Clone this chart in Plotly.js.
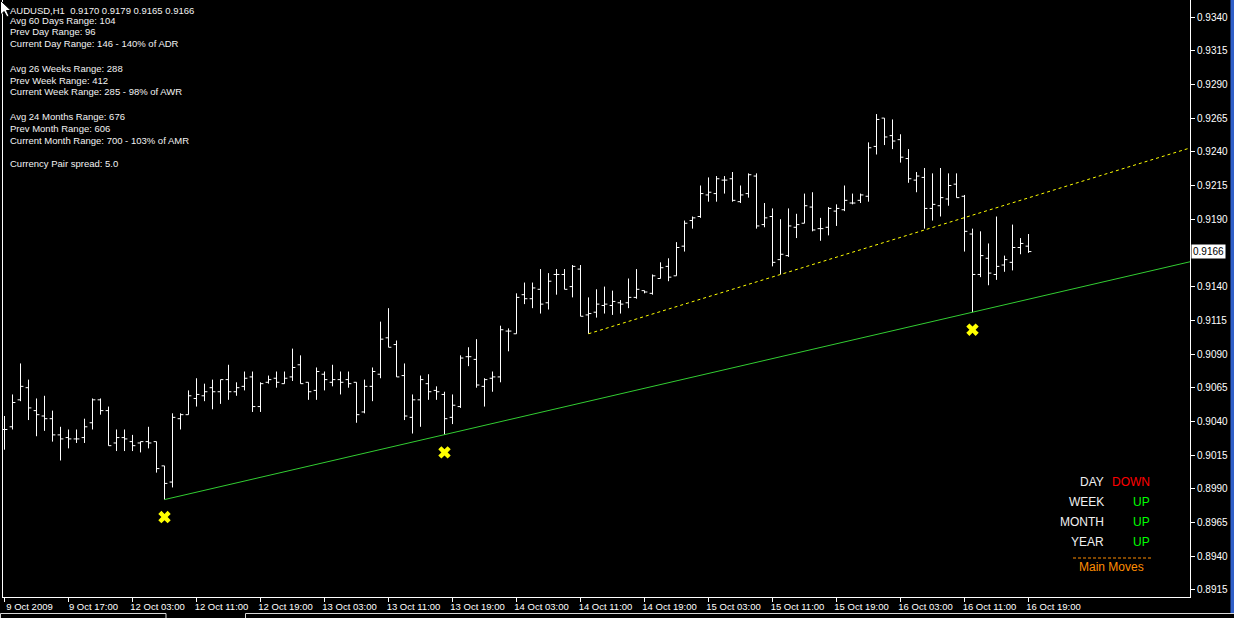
<!DOCTYPE html>
<html><head><meta charset="utf-8">
<script src="https://cdn.plot.ly/plotly-3.0.1.min.js"></script>
<style>html,body{margin:0;padding:0;background:#000;overflow:hidden}#chart{width:1234px;height:618px}</style>
</head><body><div id="chart"></div>
<script>
// ---------- DATA (AUDUSD H1) ----------
const openP = [0.9034,0.9036,0.9056,0.9065,0.9048,0.9044,0.9042,0.9030,0.9028,0.9027,
0.9028,0.9039,0.9056,0.9048,0.9024,0.9028,0.9025,0.9024,0.9025,0.9025,
0.9007,0.8995,0.9042,0.9045,0.9057,0.9059,0.9065,0.9062,0.9071,0.9062,
0.9066,0.9073,0.9051,0.9069,0.9072,0.9068,0.9073,0.9082,0.9069,0.9063,
0.9075,0.9069,0.9071,0.9071,0.9069,0.9047,0.9066,0.9075,0.9102,0.9097,
0.9074,0.9043,0.9056,0.9068,0.9063,0.9060,0.9043,0.9051,0.9088,0.9086,
0.9066,0.9072,0.9073,0.9107,0.9105,0.9134,0.9131,0.9138,0.9128,0.9149,
0.9149,0.9140,0.9153,0.9119,0.9121,0.9126,0.9126,0.9128,0.9128,0.9132,
0.9137,0.9135,0.9146,0.9155,0.9148,0.9170,0.9189,0.9192,0.9208,0.9209,
0.9219,0.9220,0.9203,0.9209,0.9222,0.9186,0.9192,0.9160,0.9163,0.9184,
0.9187,0.9199,0.9183,0.9184,0.9196,0.9197,0.9202,0.9204,0.9207,0.9244,
0.9265,0.9252,0.9249,0.9235,0.9219,0.9221,0.9198,0.9200,0.9205,0.9216,
0.9207,0.9179,0.9149,0.9161,0.9149,0.9156,0.9158,0.9169,0.9170];
const highP = [0.9044,0.9060,0.9083,0.9071,0.9057,0.9059,0.9048,0.9036,0.9034,0.9034,
0.9042,0.9057,0.9057,0.9051,0.9034,0.9034,0.9030,0.9025,0.9036,0.9025,
0.9007,0.9046,0.9046,0.9063,0.9072,0.9068,0.9071,0.9071,0.9082,0.9069,
0.9077,0.9077,0.9069,0.9074,0.9077,0.9077,0.9094,0.9089,0.9069,0.9080,
0.9077,0.9082,0.9077,0.9077,0.9069,0.9071,0.9080,0.9114,0.9124,0.9100,
0.9083,0.9060,0.9074,0.9075,0.9066,0.9062,0.9060,0.9089,0.9095,0.9101,
0.9072,0.9077,0.9111,0.9109,0.9135,0.9143,0.9143,0.9153,0.9150,0.9153,
0.9153,0.9156,0.9156,0.9132,0.9138,0.9140,0.9137,0.9130,0.9146,0.9153,
0.9137,0.9149,0.9158,0.9161,0.9173,0.9189,0.9192,0.9215,0.9221,0.9222,
0.9222,0.9225,0.9215,0.9224,0.9224,0.9202,0.9198,0.9190,0.9198,0.9194,
0.9209,0.9210,0.9191,0.9199,0.9201,0.9215,0.9209,0.9209,0.9247,0.9268,
0.9265,0.9264,0.9253,0.9242,0.9225,0.9228,0.9224,0.9228,0.9224,0.9224,
0.9208,0.9183,0.9181,0.9172,0.9192,0.9163,0.9186,0.9176,0.9179];
const lowP = [0.9019,0.9034,0.9055,0.9041,0.9029,0.9033,0.9025,0.9011,0.9020,0.9024,
0.9024,0.9034,0.9045,0.9022,0.9018,0.9018,0.9018,0.9017,0.9020,0.9002,
0.8982,0.8991,0.9034,0.9045,0.9051,0.9055,0.9049,0.9053,0.9056,0.9059,
0.9063,0.9047,0.9047,0.9068,0.9065,0.9068,0.9070,0.9068,0.9056,0.9056,
0.9063,0.9066,0.9060,0.9065,0.9039,0.9046,0.9055,0.9072,0.9095,0.9073,
0.9041,0.9031,0.9036,0.9056,0.9056,0.9030,0.9038,0.9050,0.9081,0.9065,
0.9051,0.9062,0.9069,0.9092,0.9105,0.9127,0.9124,0.9120,0.9123,0.9134,
0.9138,0.9132,0.9118,0.9105,0.9117,0.9120,0.9119,0.9120,0.9124,0.9131,
0.9135,0.9134,0.9146,0.9144,0.9148,0.9166,0.9183,0.9191,0.9203,0.9203,
0.9209,0.9203,0.9202,0.9206,0.9183,0.9184,0.9155,0.9149,0.9162,0.9176,
0.9187,0.9181,0.9174,0.9178,0.9185,0.9196,0.9201,0.9202,0.9203,0.9238,
0.9245,0.9242,0.9232,0.9217,0.9210,0.9183,0.9189,0.9192,0.9200,0.9206,
0.9166,0.9121,0.9147,0.9141,0.9145,0.9151,0.9152,0.9164,0.9165];
const closeP = [0.9034,0.9054,0.9066,0.9050,0.9045,0.9042,0.9030,0.9027,0.9027,0.9027,
0.9036,0.9056,0.9048,0.9022,0.9028,0.9027,0.9022,0.9025,0.9024,0.9005,
0.8994,0.9043,0.9045,0.9059,0.9060,0.9062,0.9062,0.9071,0.9062,0.9065,
0.9072,0.9051,0.9068,0.9071,0.9069,0.9072,0.9080,0.9068,0.9062,0.9077,
0.9071,0.9071,0.9069,0.9068,0.9045,0.9066,0.9077,0.9101,0.9095,0.9073,
0.9044,0.9056,0.9071,0.9062,0.9062,0.9042,0.9052,0.9087,0.9088,0.9067,
0.9071,0.9073,0.9108,0.9107,0.9132,0.9131,0.9139,0.9127,0.9144,0.9149,
0.9138,0.9155,0.9118,0.9120,0.9127,0.9127,0.9129,0.9127,0.9132,0.9138,
0.9136,0.9148,0.9154,0.9147,0.9169,0.9187,0.9191,0.9209,0.9210,0.9220,
0.9219,0.9204,0.9208,0.9223,0.9185,0.9191,0.9158,0.9164,0.9185,0.9186,
0.9200,0.9182,0.9183,0.9198,0.9198,0.9204,0.9202,0.9208,0.9243,0.9264,
0.9251,0.9248,0.9236,0.9220,0.9222,0.9198,0.9201,0.9206,0.9215,0.9206,
0.9181,0.9149,0.9163,0.9150,0.9155,0.9160,0.9169,0.9172,0.9166];

const tickBars = [0,8,16,24,32,40,48,56,64,72,80,88,96,104,112,120,128];
const tickLabels = ['9 Oct 2009','9 Oct 17:00','12 Oct 03:00','12 Oct 11:00','12 Oct 19:00',
'13 Oct 03:00','13 Oct 11:00','13 Oct 19:00','14 Oct 03:00','14 Oct 11:00','14 Oct 19:00',
'15 Oct 03:00','15 Oct 11:00','15 Oct 19:00','16 Oct 03:00','16 Oct 11:00','16 Oct 19:00'];

const priceTickStart = 0.8915, priceTickStep = 0.0025, priceTickCount = 18;

const greenAnchors = [20, 121];   // trend line through these bars' lows
const yellowAnchors = [73, 97];   // dotted trend line through these bars' lows
const crossBars = [20, 55, 121];  // yellow "x" marks

const headerText = 'AUDUSD,H1\u00a0\u00a00.9170 0.9179 0.9165 0.9166';
const infoLines = ['Avg 60 Days Range: 104','Prev Day Range: 96','Current Day Range: 146 - 140% of ADR','',
'Avg 26 Weeks Range: 288','Prev Week Range: 412','Current Week Range: 285 - 98% of AWR','',
'Avg 24 Months Range: 676','Prev Month Range: 606','Current Month Range: 700 - 103% of AMR','',
'Currency Pair spread: 5.0'];
const moveNames = ['DAY','WEEK','MONTH','YEAR'];
const moveDirs = ['DOWN','UP','UP','UP'];
const movesTitle = 'Main Moves';
const lastPrice = 0.9166;

// ---------- LAYOUT GEOMETRY ----------
const W = 1234, H = 618, ML = 3, MR = 44, MT = 0, MB = 21;
const plotW = W - ML - MR, plotH = H - MT - MB;
const barPx = 8;
const xr0 = -0.1875, xr1 = xr0 + plotW / barPx;
const pxPerPrice = 13480;              // vertical scale
const refPrice = 0.9340, refY = 17;    // 0.9340 sits 17px below the top
const yTop = refPrice + refY / pxPerPrice;
const yBot = yTop - plotH / pxPerPrice;

const xs = openP.map((_, i) => i);
const FONT = 'Liberation Sans, Arial, sans-serif';

// price ticks; the one hidden under the current-price box is left out
const priceTicks = [];
for (let k = 0; k < priceTickCount; k++) {
  const v = +(priceTickStart + k * priceTickStep).toFixed(4);
  if (Math.abs(v - lastPrice) > 0.0012) priceTicks.push(v);
}

function ray(a, b) {
  const slope = (lowP[b] - lowP[a]) / (b - a);
  const xe = xr1 + 3;
  return {x: [a, xe], y: [lowP[a], lowP[a] + slope * (xe - a)]};
}
const g = ray(greenAnchors[0], greenAnchors[1]);
const yl = ray(yellowAnchors[0], yellowAnchors[1]);
const crossOffset = 17.5 / pxPerPrice;

const traces = [
  {type: 'ohlc', x: xs, open: openP, high: highP, low: lowP, close: closeP,
   increasing: {line: {color: '#ffffff', width: 1}},
   decreasing: {line: {color: '#ffffff', width: 1}},
   tickwidth: 0.36, hoverinfo: 'skip', showlegend: false},
  {type: 'scatter', mode: 'lines', x: g.x, y: g.y,
   line: {color: '#32cd32', width: 1}, hoverinfo: 'skip', showlegend: false},
  {type: 'scatter', mode: 'lines', x: yl.x, y: yl.y,
   line: {color: '#ffff00', width: 1, dash: '3px,3px'}, hoverinfo: 'skip', showlegend: false},
  {type: 'scatter', mode: 'markers', x: crossBars, y: crossBars.map(i => lowP[i] - crossOffset),
   marker: {symbol: 'x', size: 11, color: '#ffff00', line: {width: 0}},
   hoverinfo: 'skip', showlegend: false}
];

// pixel -> paper helpers (for decorations / text placement)
const PX = x => (x - ML) / plotW;
const PY = y => 1 - (y - MT) / plotH;

const ann = [];
function txt(px, py, text, color, size, anchor) {
  ann.push({xref: 'paper', yref: 'paper', x: PX(px), y: PY(py), text: text, showarrow: false,
    xanchor: anchor || 'left', yanchor: 'middle',
    font: {family: FONT, size: size, color: color}, borderpad: 0});
}
txt(9, 10, headerText, '#f2f2f2', 9.5);
infoLines.forEach((t, k) => { if (t) txt(9, 20 + 12 * k, t, '#f2f2f2', 9.5); });
moveNames.forEach((t, k) => {
  txt(1105, 482 + 20 * k, t, '#f0f0f0', 12, 'right');
  txt(1151, 482 + 20 * k, moveDirs[k], moveDirs[k] === 'UP' ? '#00ff00' : '#ff0000', 12, 'right');
});
txt(1111, 567, movesTitle, '#ff8c00', 12, 'center');
ann.push({xref: 'paper', yref: 'y', x: 1, y: lastPrice, xanchor: 'left', yanchor: 'middle', xshift: 1,
  text: lastPrice.toFixed(4), showarrow: false, bgcolor: '#ffffff', borderpad: 1,
  font: {family: FONT, size: 10, color: '#000000'}});

const shapes = [
  {type: 'line', xref: 'paper', yref: 'paper', x0: PX(1073), x1: PX(1152), y0: PY(558), y1: PY(558),
   line: {color: '#ff8c00', width: 1, dash: '3px,2px'}},
  {type: 'rect', xref: 'paper', yref: 'paper', x0: PX(0.5), x1: PX(166), y0: PY(613.5), y1: PY(622),
   line: {color: '#d8d8d8', width: 1}},
  {type: 'rect', xref: 'paper', yref: 'paper', x0: PX(245.5), x1: PX(1240), y0: PY(613.5), y1: PY(622),
   line: {color: '#d8d8d8', width: 1}},
  {type: 'rect', xref: 'paper', yref: 'paper', x0: PX(1230.5), x1: PX(1236), y0: PY(-2), y1: PY(613),
   line: {width: 0}, fillcolor: '#2f5fc8'},
  {type: 'path', xref: 'paper', yref: 'paper',
   path: 'M' + [[0.5,0.5],[0.5,15],[4,11.5],[7,17],[9,16],[6.5,10.5],[11,10.5]].map(p => PX(p[0]) + ',' + PY(p[1])).join(' L') + ' Z',
   fillcolor: '#ffffff', line: {color: '#000000', width: 1}}
];

const layout = {
  width: W, height: H,
  margin: {l: ML, r: MR, t: MT, b: MB, pad: 0},
  paper_bgcolor: '#000000', plot_bgcolor: '#000000',
  showlegend: false, dragmode: false,
  xaxis: {type: 'linear', range: [xr0, xr1], tickvals: tickBars, ticktext: tickLabels,
    ticks: 'outside', ticklen: 4, tickcolor: '#ffffff', tickwidth: 1,
    tickfont: {family: FONT, size: 9.5, color: '#ffffff'}, ticklabelshift: 25, ticklabelstandoff: -3,
    showgrid: false, zeroline: false, showline: true, mirror: true, linecolor: '#ffffff', linewidth: 1,
    rangeslider: {visible: false}, fixedrange: true},
  yaxis: {side: 'right', range: [yBot, yTop], tickmode: 'array', tickvals: priceTicks,
    ticktext: priceTicks.map(v => v.toFixed(4)),
    ticks: 'outside', ticklen: 4, tickcolor: '#ffffff', tickwidth: 1,
    tickfont: {family: FONT, size: 10, color: '#ffffff'},
    showgrid: false, zeroline: false, showline: true, mirror: true, linecolor: '#ffffff', linewidth: 1,
    fixedrange: true},
  annotations: ann,
  shapes: shapes
};

Plotly.newPlot('chart', traces, layout, {displayModeBar: false, staticPlot: true});
</script>
</body></html>
